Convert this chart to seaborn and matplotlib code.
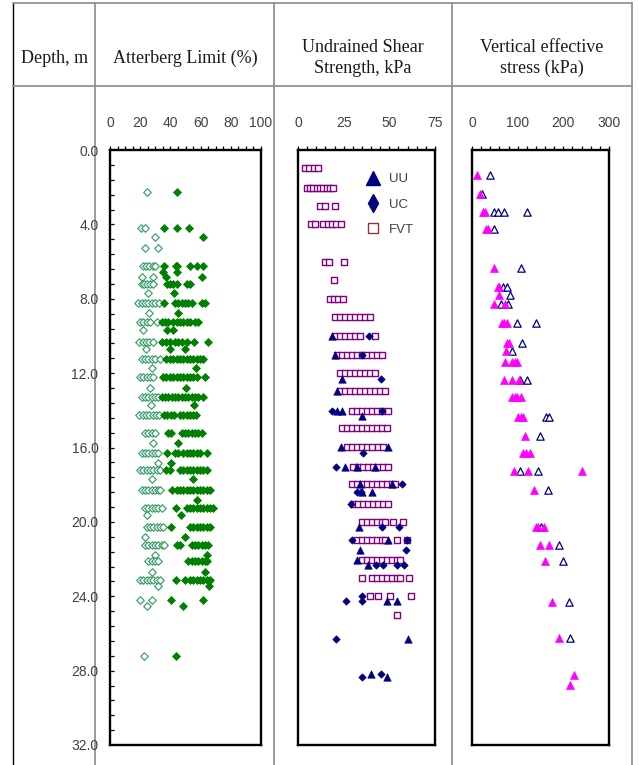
import numpy as np
import pandas as pd
import matplotlib
matplotlib.use("Agg")
import matplotlib.pyplot as plt
from matplotlib.lines import Line2D
import seaborn as sns

# ---------------------------------------------------------------------------
# Atterberg limits, % : (depth m, [values at that depth])
pl_rows = [
    (2.27, [24.3]), (4.21, [20.3, 23.2]), (4.70, [29.8]), (5.25, [23.2, 31.6]),
    (6.22, [22.1, 23.8, 26.0, 28.3, 29.8]), (6.81, [21.2, 28.3]),
    (7.20, [21.0, 22.7, 24.7, 26.5, 28.7]), (7.71, [24.9]),
    (8.24, [18.8, 21.0, 23.2, 25.4, 27.6, 29.8, 32.5]), (8.78, [26.0]),
    (9.27, [19.9, 22.1, 24.3, 26.5, 30.9]), (9.68, [21.6]),
    (10.30, [19.4, 21.6, 23.8, 26.0, 28.7]), (10.72, [23.8]),
    (11.25, [21.0, 23.2, 25.4, 27.6, 29.8, 33.1]), (11.74, [27.6]),
    (12.22, [19.9, 22.1, 24.3, 26.5, 28.7]), (12.81, [26.5]),
    (13.26, [21.0, 23.2, 25.4, 27.6, 29.8, 32.0]), (13.71, [26.9]),
    (14.25, [19.4, 21.6, 23.8, 26.0, 28.3, 30.5, 32.7]),
    (15.23, [23.2, 25.4, 27.6, 29.8]), (15.77, [28.7]),
    (16.31, [21.0, 23.2, 25.4, 27.6, 29.8, 32.0]), (16.85, [32.0]),
    (17.20, [19.9, 22.1, 24.3, 26.5, 28.7, 30.9, 33.1]), (17.71, [27.6]),
    (18.28, [21.0, 23.2, 25.4, 27.6, 29.8, 32.0, 33.1]),
    (19.27, [23.2, 25.4, 27.6, 29.8, 32.0, 34.2]), (19.62, [24.7]),
    (20.25, [24.7, 26.5, 28.7, 30.9, 33.1, 35.3]), (20.82, [23.2]),
    (21.24, [23.2, 25.4, 27.6, 29.8, 32.0, 34.2, 35.8]), (21.77, [29.8]),
    (22.13, [25.4, 27.6, 29.8, 32.0]), (22.67, [27.6]),
    (23.12, [19.9, 22.1, 24.3, 26.5, 28.7, 30.9, 33.1]), (23.44, [32.0]),
    (24.19, [19.9, 27.6]), (24.52, [24.3]), (27.19, [22.5]),
]
ll_rows = [
    (2.27, [44.4]), (4.21, [35.8, 44.4, 52.5]), (4.70, [61.4]),
    (6.22, [35.8, 43.7, 44.6, 53.0, 57.4, 61.4]), (6.54, [34.9, 44.6]),
    (6.81, [37.1, 60.7]), (7.20, [38.0, 39.7, 41.9, 44.6, 50.8, 53.0]),
    (7.71, [42.6]),
    (8.24, [35.8, 43.0, 45.3, 47.5, 49.7, 51.9, 54.1, 60.7, 62.9]), (8.78, [45.3]),
    (9.27, [34.2, 36.4, 38.6, 41.9, 44.2, 46.4, 48.6, 50.8, 53.0, 56.3, 58.5]),
    (9.68, [37.5, 41.9]),
    (10.30, [34.2, 37.1, 39.7, 43.0, 45.3, 47.5, 50.8, 55.6, 65.1]),
    (10.72, [39.7, 49.7]),
    (11.25, [37.1, 39.7, 41.9, 44.2, 46.4, 48.6, 50.8, 53.0, 55.2, 57.4, 59.6, 61.8]),
    (11.74, [57.0]),
    (12.22, [34.9, 37.1, 39.7, 41.9, 44.2, 46.4, 48.6, 50.8, 53.0, 55.2, 57.4, 62.9]),
    (12.81, [50.3]),
    (13.26, [34.2, 36.4, 38.6, 40.8, 43.0, 45.3, 47.5, 49.7, 51.9, 54.1, 56.3, 58.5, 61.8]),
    (13.71, [55.6]),
    (14.25, [35.8, 38.0, 40.2, 42.4, 46.4, 48.6, 50.8, 53.0, 55.2, 57.0]),
    (15.23, [38.6, 40.2, 47.5, 49.7, 51.9, 54.1, 56.3, 58.5, 60.7]), (15.77, [45.3]),
    (16.31, [38.0, 43.0, 45.3, 48.1, 50.8, 53.0, 55.2, 57.4, 59.6, 64.0]),
    (16.85, [40.2]),
    (17.20, [37.1, 39.7, 46.4, 48.6, 50.8, 53.0, 55.2, 57.4, 59.6, 61.8, 64.0]),
    (17.71, [55.2]),
    (18.28, [40.8, 44.6, 46.4, 48.6, 50.8, 53.0, 55.2, 57.4, 59.6, 61.8, 64.0, 66.2]),
    (18.82, [57.8]),
    (19.27, [43.7, 50.8, 53.0, 55.2, 57.4, 59.6, 61.8, 64.0, 66.2, 68.4]),
    (19.62, [46.8]),
    (20.25, [40.2, 53.0, 55.2, 57.4, 59.6, 61.8, 64.0, 66.2]), (20.82, [49.7]),
    (21.24, [44.2, 46.4, 54.1, 56.3, 58.5, 60.7, 62.9, 65.1]), (21.77, [64.0]),
    (22.13, [51.9, 54.1, 56.3, 58.5, 60.7, 62.9, 64.5]), (22.67, [62.9]),
    (23.12, [43.7, 49.7, 53.0, 55.2, 57.4, 59.6, 61.8, 64.0, 66.2]), (23.44, [65.8]),
    (24.19, [40.2, 61.4]), (24.52, [48.1]), (27.19, [43.7]),
]

# Undrained shear strength, kPa : (depth m, [values])
fvt_rows = [
    (0.99, [3.8, 6.2, 8.8, 11.1]),
    (2.02, [4.7, 6.6, 8.4, 10.2, 12.0, 13.9, 15.7, 17.5, 19.3]),
    (3.01, [12.0, 14.8, 20.3]),
    (4.00, [7.1, 9.3, 13.9, 16.2, 18.4, 20.6, 23.4]),
    (6.00, [14.8, 17.0, 25.2]), (6.99, [19.7]),
    (8.00, [17.5, 19.9, 22.1, 24.8]),
    (9.00, [20.3, 23.0, 25.7, 28.5, 31.2, 33.9, 36.7, 39.4]),
    (9.98, [20.3, 23.0, 25.7, 28.5, 31.2, 33.9, 42.2]),
    (11.02, [21.2, 23.9, 26.6, 29.4, 32.1, 34.9, 37.6, 40.3, 43.1, 45.8]),
    (11.97, [23.0, 25.7, 28.5, 31.2, 33.9, 36.7, 39.4, 42.2]),
    (12.96, [23.0, 25.7, 28.5, 31.2, 33.9, 36.7, 39.4, 42.2, 44.9, 47.6]),
    (14.02, [29.4, 32.1, 34.9, 37.6, 40.3, 43.1, 45.8, 49.5]),
    (14.96, [23.9, 26.6, 29.4, 32.1, 34.9, 37.6, 40.3, 43.1, 45.8, 48.5]),
    (15.95, [26.6, 29.4, 32.1, 34.9, 37.6, 40.3, 44.0, 46.7]),
    (17.03, [30.3, 33.0, 35.8, 38.5, 41.3, 44.0, 46.7, 49.5]),
    (17.96, [29.4, 32.1, 34.9, 37.6, 40.3, 43.1, 45.8, 48.5, 51.3, 53.1]),
    (19.03, [30.3, 33.0, 35.8, 38.5, 41.3, 44.0, 46.7, 49.5]),
    (20.02, [34.9, 37.6, 40.3, 43.1, 45.8, 47.6, 52.2, 57.7]),
    (21.00, [32.1, 34.9, 37.6, 40.3, 43.1, 45.8, 47.6, 54.0, 59.9]),
    (22.04, [34.9, 37.6, 40.3, 43.1, 45.8, 48.5, 51.3, 54.0, 55.8]),
    (23.00, [35.2, 40.3, 43.1, 45.8, 48.5, 51.3, 54.0, 55.8, 60.9]),
    (23.98, [39.4, 44.0, 50.4, 61.9]),
    (25.00, [54.0]),
]
uu_rows = [
    (9.98, [18.4]), (11.02, [20.3]), (12.33, [23.9]), (12.96, [21.2]),
    (14.02, [21.2, 23.9]), (14.30, [35.2]), (15.95, [23.5, 49.5]),
    (17.03, [25.7, 32.1, 42.2]), (17.96, [33.9, 51.3]), (18.42, [35.2, 40.3]),
    (20.25, [33.4]), (21.00, [49.5]), (21.50, [33.9]), (22.04, [32.1]),
    (22.30, [38.1]), (24.23, [48.5, 54.0]), (26.30, [60.0]),
    (28.17, [40.0]), (28.35, [48.5]),
]
uc_rows = [
    (9.98, [38.9]), (11.02, [34.9]), (12.33, [45.4]), (14.02, [18.8, 45.8]),
    (16.30, [35.8]), (17.03, [20.8]), (17.96, [56.8]), (18.42, [32.1, 34.5]),
    (19.03, [29.0]), (20.25, [45.8, 55.3]), (21.00, [29.4, 59.9]),
    (21.50, [58.9]), (22.30, [42.5, 46.4, 54.0, 58.0]), (24.00, [35.2]),
    (24.23, [26.3, 35.2]), (26.30, [20.8]), (28.17, [45.4]), (28.35, [35.2]),
]

# Vertical effective stress, kPa : (depth m, [values])
stress_filled_rows = [
    (1.34, [11.7]), (2.38, [17.5]), (3.32, [24.8, 28.5]), (4.27, [29.9, 34.3]),
    (6.36, [48.9]), (7.35, [56.2, 59.1]), (7.80, [59.9]), (8.30, [48.9, 72.3]),
    (9.32, [65.0, 70.1, 75.9]), (10.39, [75.9, 81.8]), (10.79, [74.5]),
    (11.38, [72.3, 88.3, 94.2, 99.3]), (12.37, [70.1, 88.3, 103.6]),
    (13.30, [88.3, 94.2, 99.3, 106.6]), (14.34, [101.5, 106.6, 112.4]),
    (15.38, [116.1]), (16.31, [110.9, 117.5, 127.0]),
    (17.29, [92.0, 121.9, 241.6]), (18.28, [135.8]),
    (20.30, [140.1, 145.3, 158.4]), (21.27, [148.9, 168.6]), (22.13, [159.9]),
    (24.32, [174.5]), (26.22, [190.5]), (28.26, [224.1]), (28.76, [214.6]),
]
stress_open_rows = [
    (1.34, [39.4]), (2.38, [22.6]), (3.32, [48.9, 57.7, 70.1, 119.7]),
    (4.27, [48.9]), (6.36, [107.3]), (7.35, [68.6, 77.4]), (7.80, [83.2]),
    (8.30, [63.5, 79.6]), (9.32, [97.8, 140.1]), (10.39, [110.2]),
    (10.79, [88.3]), (12.37, [105.1, 119.7]), (14.34, [161.3, 168.6]),
    (15.38, [148.9]), (17.29, [105.1, 143.8]), (18.28, [165.7]),
    (20.30, [151.1]), (21.27, [190.5]), (22.13, [198.5]), (24.32, [212.4]),
    (26.22, [214.6]),
]

depth_ticks = [0, 4, 8, 12, 16, 20, 24, 28, 32]
atterberg_ticks = [0, 20, 40, 60, 80, 100]
su_ticks = [0, 25, 50, 75]
stress_ticks = [0, 100, 200, 300]


def to_frame(rows):
    return pd.DataFrame([(d, v) for d, vals in rows for v in vals],
                        columns=["depth", "value"])


sns.set_theme(style="white")
plt.rcParams["font.family"] = ["Liberation Sans", "DejaVu Sans"]

W, H = 639, 765
fig = plt.figure(figsize=(W / 100, H / 100), dpi=100)
fig.patch.set_facecolor("white")


def fx(px):
    return px / W


def fy(py):
    return 1 - py / H


BOX_TOP, BOX_BOT = 150, 745
TICK_GREY = "#404040"


def make_panel(x0, x1, xmax, major, minor_step):
    ax = fig.add_axes([fx(x0), fy(BOX_BOT), (x1 - x0) / W, (BOX_BOT - BOX_TOP) / H])
    ax.set_facecolor("white")
    ax.set_xlim(0, xmax)
    ax.set_ylim(32, 0)
    ax.xaxis.tick_top()
    ax.set_xticks(major)
    ax.set_xticks(np.arange(0, xmax + 0.01, minor_step), minor=True)
    ax.tick_params(axis="x", which="both", direction="out", length=2.6, width=0.9,
                   color="black", top=True, bottom=False, labeltop=True,
                   labelbottom=False, pad=11.5, labelsize=10, labelcolor=TICK_GREY)
    for s in ax.spines.values():
        s.set_visible(True)
        s.set_linewidth(1.7)
        s.set_color("black")
    return ax


# --- table frame ---------------------------------------------------------
grey = "#8a8a8a"
for x, col, lw in [(13, "black", 1.0), (95, grey, 1.2), (274, grey, 1.2),
                   (452, grey, 1.2), (632, grey, 1.2)]:
    fig.add_artist(Line2D([fx(x), fx(x)], [fy(3), fy(765)], color=col, lw=lw, zorder=-1))
for y in (3, 86):
    fig.add_artist(Line2D([fx(13), fx(632)], [fy(y), fy(y)], color=grey, lw=1.2, zorder=-1))

head_kw = dict(fontfamily=["Liberation Serif", "DejaVu Serif"], fontsize=13,
               color="#1a1a1a", ha="center", va="baseline")
fig.text(fx(55), fy(63), "Depth, m", **head_kw)
fig.text(fx(185), fy(63), "Atterberg Limit (%)", **head_kw)
fig.text(fx(363), fy(52), "Undrained Shear", **head_kw)
fig.text(fx(363), fy(73), "Strength, kPa", **head_kw)
fig.text(fx(542), fy(52), "Vertical effective", **head_kw)
fig.text(fx(542), fy(73), "stress (kPa)", **head_kw)

# --- depth scale -----------------------------------------------------------
ax_d = fig.add_axes([fx(95), fy(BOX_BOT), 0.0005, (BOX_BOT - BOX_TOP) / H])
ax_d.patch.set_alpha(0)
ax_d.set_ylim(32, 0)
ax_d.set_xticks([])
ax_d.set_yticks(depth_ticks)
ax_d.set_yticklabels([f"{v:.1f}" for v in depth_ticks])
ax_d.tick_params(axis="y", length=0, pad=-2.5, labelsize=10, labelcolor=TICK_GREY)
for s in ax_d.spines.values():
    s.set_visible(False)

# --- Atterberg limits ------------------------------------------------------
ax1 = make_panel(110, 261, 100, atterberg_ticks, 5)
sns.scatterplot(data=to_frame(pl_rows), x="value", y="depth", ax=ax1, marker="D",
                s=15, color="white", edgecolor="#2e9a5e", linewidth=0.8, legend=False)
sns.scatterplot(data=to_frame(ll_rows), x="value", y="depth", ax=ax1, marker="D",
                s=16, color="#008000", edgecolor="#008000", linewidth=0.6, legend=False)
ax1.set_yticks(np.arange(0.8, 31.99, 0.8))
ax1.tick_params(axis="y", direction="in", length=3, width=0.9, color="black",
                left=True, labelleft=False)

# --- Undrained shear strength ----------------------------------------------
ax2 = make_panel(298, 435, 75, su_ticks, 5)
sns.scatterplot(data=to_frame(fvt_rows), x="value", y="depth", ax=ax2, marker="s",
                s=14, color="white", edgecolor="#800080", linewidth=1.0, legend=False)
sns.scatterplot(data=to_frame(uc_rows), x="value", y="depth", ax=ax2, marker="D",
                s=14, color="#000080", edgecolor="#000080", linewidth=0.5, legend=False)
sns.scatterplot(data=to_frame(uu_rows), x="value", y="depth", ax=ax2, marker="^",
                s=28, color="#000080", edgecolor="#000080", linewidth=0.5, legend=False)
ax2.set_yticks([])
handles = [
    Line2D([], [], ls="none", marker="^", ms=10, mfc="#000080", mec="#000080", label="UU"),
    Line2D([], [], ls="none", marker="d", ms=9, mfc="#000080", mec="#000080", label="UC"),
    Line2D([], [], ls="none", marker="s", ms=7, mfc="white", mec="#993333", mew=1.0,
           label="FVT"),
]
ax2.legend(handles=handles, loc="upper left", bbox_to_anchor=(fx(365.5), fy(173)),
           bbox_transform=fig.transFigure, frameon=False, fontsize=9.5,
           labelcolor=TICK_GREY, handlelength=1.2, handletextpad=0.6,
           labelspacing=1.0, borderpad=0, borderaxespad=0)

# --- Vertical effective stress ---------------------------------------------
ax3 = make_panel(472, 609, 300, stress_ticks, 20)
sns.scatterplot(data=to_frame(stress_open_rows), x="value", y="depth", ax=ax3,
                marker="^", s=28, color="white", edgecolor="#000080", linewidth=0.9,
                legend=False)
sns.scatterplot(data=to_frame(stress_filled_rows), x="value", y="depth", ax=ax3,
                marker="^", s=32, color="#ff00ff", edgecolor="#ff00ff", linewidth=0.5,
                legend=False)
ax3.set_yticks([])

for ax in (ax1, ax2, ax3):
    ax.set_xlabel("")
    ax.set_ylabel("")

fig.savefig("out.png", dpi=100, facecolor="white")
